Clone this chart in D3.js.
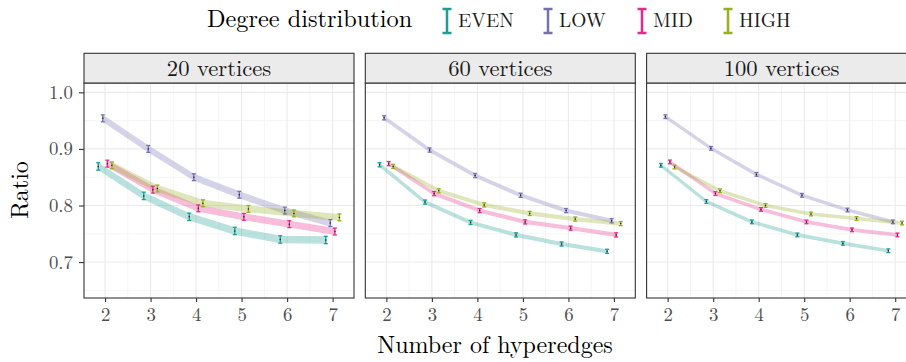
<!DOCTYPE html>
<html>
<head>
<meta charset="utf-8">
<script src="https://cdn.jsdelivr.net/npm/d3@7"></script>
<style>
  html, body { margin: 0; padding: 0; background: #fff; }
  svg { display: block; }
</style>
</head>
<body>
<svg id="chart" width="906" height="362"></svg>
<script>
// Hyperedge counts on the x axis
const hyperedges = [2, 3, 4, 5, 6, 7];
const distributions = ["EVEN", "LOW", "MID", "HIGH"];
const distColors = ["#1b9e94", "#7570b3", "#e7298a", "#98ae1f"];
const panelTitles = ["20 vertices", "60 vertices", "100 vertices"];
const yTicks = [0.7, 0.8, 0.9, 1.0];

// Mean ratio per distribution, one array per vertex count
const ratio20 = {
  EVEN: [0.869, 0.817, 0.780, 0.755, 0.740, 0.739],
  LOW:  [0.954, 0.900, 0.850, 0.819, 0.791, 0.769],
  MID:  [0.874, 0.828, 0.795, 0.780, 0.767, 0.754],
  HIGH: [0.871, 0.830, 0.804, 0.794, 0.786, 0.779]
};
const ratio60 = {
  EVEN: [0.872, 0.806, 0.770, 0.748, 0.732, 0.719],
  LOW:  [0.955, 0.898, 0.853, 0.818, 0.791, 0.773],
  MID:  [0.874, 0.821, 0.791, 0.771, 0.760, 0.748],
  HIGH: [0.869, 0.826, 0.801, 0.786, 0.776, 0.768]
};
const ratio100 = {
  EVEN: [0.871, 0.807, 0.771, 0.748, 0.733, 0.720],
  LOW:  [0.957, 0.901, 0.855, 0.818, 0.792, 0.771],
  MID:  [0.877, 0.821, 0.793, 0.771, 0.757, 0.748],
  HIGH: [0.868, 0.826, 0.800, 0.785, 0.777, 0.769]
};
// Half-width of the confidence band / error bar per panel
const ci20 = { EVEN: 0.0055, LOW: 0.005, MID: 0.005, HIGH: 0.005 };
const ci60 = { EVEN: 0.0026, LOW: 0.0026, MID: 0.0026, HIGH: 0.0026 };
const ci100 = { EVEN: 0.0022, LOW: 0.0022, MID: 0.0022, HIGH: 0.0022 };

const panelData = [ratio20, ratio60, ratio100];
const panelCi = [ci20, ci60, ci100];

const FONT = '"Latin Modern Roman", "Liberation Serif", serif';
const svg = d3.select("#chart");
const panelLefts = [84, 365.3, 646.6];
const panelW = 270;
const stripTop = 53.3, stripBottom = 83, plotBottom = 298;

const y = d3.scaleLinear().domain([0.6365, 1.0165]).range([plotBottom, stripBottom]);
const dodge = d3.scaleBand().domain(distributions).range([-0.2, 0.2]);
const offset = d => dodge(d) + dodge.bandwidth() / 2;

function label(sel, size, fill) {
  return sel.style("font-family", FONT).style("font-size", size + "px").attr("fill", fill);
}

panelData.forEach((data, pi) => {
  const x0 = panelLefts[pi];
  const x = d3.scaleLinear().domain([1.537, 7.47]).range([x0, x0 + panelW]);
  const g = svg.append("g");
  const ci = panelCi[pi];

  // background grid
  g.append("rect").attr("x", x0).attr("y", stripBottom).attr("width", panelW)
    .attr("height", plotBottom - stripBottom).attr("fill", "#fff");
  const minorY = [0.65, 0.75, 0.85, 0.95];
  const minorX = [2.5, 3.5, 4.5, 5.5, 6.5];
  g.selectAll(".gmy").data(minorY).join("line")
    .attr("x1", x0).attr("x2", x0 + panelW)
    .attr("y1", d => y(d)).attr("y2", d => y(d))
    .attr("stroke", "#f2f2f2").attr("stroke-width", 0.8);
  g.selectAll(".gmx").data(minorX).join("line")
    .attr("y1", stripBottom).attr("y2", plotBottom)
    .attr("x1", d => x(d)).attr("x2", d => x(d))
    .attr("stroke", "#f2f2f2").attr("stroke-width", 0.8);
  g.selectAll(".gy").data(yTicks).join("line")
    .attr("x1", x0).attr("x2", x0 + panelW)
    .attr("y1", d => y(d)).attr("y2", d => y(d))
    .attr("stroke", "#ebebeb").attr("stroke-width", 1.1);
  g.selectAll(".gx").data(hyperedges).join("line")
    .attr("y1", stripBottom).attr("y2", plotBottom)
    .attr("x1", d => x(d)).attr("x2", d => x(d))
    .attr("stroke", "#ebebeb").attr("stroke-width", 1.1);

  // confidence bands (each band as a whole is translucent)
  distributions.forEach((dist, di) => {
    const pts = hyperedges.map((h, i) => ({ x: h + offset(dist), v: data[dist][i], c: ci[dist] }));
    const area = d3.area()
      .x(d => x(d.x))
      .y0(d => y(d.v - d.c))
      .y1(d => y(d.v + d.c));
    g.append("g").attr("opacity", 0.3)
      .append("path").datum(pts).attr("d", area)
      .attr("fill", distColors[di])
      .attr("stroke", distColors[di]).attr("stroke-width", 1.2).attr("stroke-linejoin", "round");
  });

  // error bars with mean points
  distributions.forEach((dist, di) => {
    const pts = hyperedges.map((h, i) => ({ x: h + offset(dist), v: data[dist][i], c: ci[dist] }));
    const eb = g.append("g").selectAll("g").data(pts).join("g");
    eb.append("line")
      .attr("x1", d => x(d.x)).attr("x2", d => x(d.x))
      .attr("y1", d => y(d.v - d.c) + 0.6).attr("y2", d => y(d.v + d.c) - 0.6)
      .attr("stroke", distColors[di]).attr("stroke-width", 1.3);
    eb.append("line")
      .attr("x1", d => x(d.x) - 2).attr("x2", d => x(d.x) + 2)
      .attr("y1", d => y(d.v - d.c) + 0.6).attr("y2", d => y(d.v - d.c) + 0.6)
      .attr("stroke", distColors[di]).attr("stroke-width", 1.3);
    eb.append("line")
      .attr("x1", d => x(d.x) - 2).attr("x2", d => x(d.x) + 2)
      .attr("y1", d => y(d.v + d.c) - 0.6).attr("y2", d => y(d.v + d.c) - 0.6)
      .attr("stroke", distColors[di]).attr("stroke-width", 1.3);
    eb.append("circle")
      .attr("cx", d => x(d.x)).attr("cy", d => y(d.v)).attr("r", 0.75)
      .attr("fill", "#222");
  });

  // panel border
  g.append("rect").attr("x", x0).attr("y", stripBottom).attr("width", panelW)
    .attr("height", plotBottom - stripBottom)
    .attr("fill", "none").attr("stroke", "#333").attr("stroke-width", 1.1);

  // strip
  g.append("rect").attr("x", x0).attr("y", stripTop).attr("width", panelW)
    .attr("height", stripBottom - stripTop)
    .attr("fill", "#ebebeb").attr("stroke", "#333").attr("stroke-width", 1.1);
  label(g.append("text").attr("x", x0 + panelW / 2).attr("y", 76)
    .attr("text-anchor", "middle"), 22.6, "#1a1a1a")
    .text(panelTitles[pi]);

  // x axis
  const xAxis = d3.axisBottom(x).tickValues(hyperedges).tickSize(4).tickPadding(6)
    .tickFormat(d3.format("d"));
  const ax = svg.append("g").attr("transform", `translate(0,${plotBottom})`).call(xAxis);
  ax.select(".domain").remove();
  ax.selectAll(".tick line").attr("stroke", "#333").attr("stroke-width", 1.1);
  label(ax.selectAll(".tick text"), 18.8, "#4d4d4d");
});

// y axis on the first panel
const yAxis = d3.axisLeft(y).tickValues(yTicks).tickSize(5).tickPadding(6)
  .tickFormat(d3.format(".1f"));
const ay = svg.append("g").attr("transform", `translate(${panelLefts[0]},0)`).call(yAxis);
ay.select(".domain").remove();
ay.selectAll(".tick line").attr("stroke", "#333").attr("stroke-width", 1.1);
label(ay.selectAll(".tick text"), 18.8, "#4d4d4d");

// axis titles
label(svg.append("text").attr("x", 495).attr("y", 353).attr("text-anchor", "middle"), 24, "#000")
  .text("Number of hyperedges");
label(svg.append("text").attr("transform", "translate(28,190) rotate(-90)")
  .attr("text-anchor", "middle"), 24, "#000").text("Ratio");

// legend
label(svg.append("text").attr("x", 207).attr("y", 27), 24.3, "#000").text("Degree distribution");
const keyX = [447, 548, 642, 728];
distributions.forEach((dist, di) => {
  const k = svg.append("g").attr("transform", `translate(${keyX[di]},0)`);
  k.append("line").attr("x1", 0).attr("x2", 0).attr("y1", 9).attr("y2", 33)
    .attr("stroke", distColors[di]).attr("stroke-width", 2.5);
  k.append("line").attr("x1", -4.5).attr("x2", 4.5).attr("y1", 9).attr("y2", 9)
    .attr("stroke", distColors[di]).attr("stroke-width", 2.5);
  k.append("line").attr("x1", -4.5).attr("x2", 4.5).attr("y1", 33).attr("y2", 33)
    .attr("stroke", distColors[di]).attr("stroke-width", 2.5);
  label(k.append("text").attr("x", 11).attr("y", 27), 19.5, "#1a1a1a").text(dist);
});
</script>
</body>
</html>
